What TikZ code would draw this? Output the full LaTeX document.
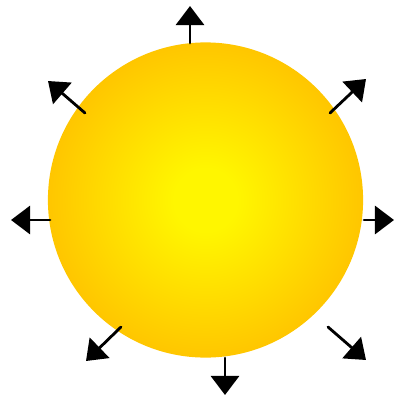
\documentclass[tikz,border=0pt]{standalone}
\usepackage{tikz}
\usetikzlibrary{arrows.meta}
\definecolor{sunmid}{RGB}{255,246,0}
\definecolor{sunrim}{RGB}{255,198,0}
\pgfdeclareradialshading{sunglow}{\pgfpoint{0bp}{0bp}}{%
  color(0bp)=(sunmid); color(5bp)=(sunmid); color(25bp)=(sunrim); color(50bp)=(sunrim)}

\begin{document}
\begin{tikzpicture}[x=0.01cm, y=-0.01cm, line cap=round,
    ray/.style={-{Triangle[width=0.28cm,length=0.19cm]}, line width=0.8pt, black}]
  \useasboundingbox (0,0) rectangle (395,397);
  \node (sun) at (205.5,200) [circle, minimum size=3.15cm, inner sep=0pt,
    shading=sunglow] {};
  \coordinate (nT)  at (190,43);   \coordinate (tT)  at (190,6);
  \coordinate (nTL) at (85,113);   \coordinate (tTL) at (48,81);
  \coordinate (nTR) at (330,113);  \coordinate (tTR) at (366,79);
  \coordinate (nL)  at (50,220);   \coordinate (tL)  at (11,220);
  \coordinate (nR)  at (364,220);  \coordinate (tR)  at (394,220);
  \coordinate (nBL) at (121,327);  \coordinate (tBL) at (86,361);
  \coordinate (nB)  at (225,358);  \coordinate (tB)  at (225,395);
  \coordinate (nBR) at (328,327);  \coordinate (tBR) at (366,360);
  \draw[ray] (nT)--(tT);   \draw[ray] (nTL)--(tTL);
  \draw[ray] (nTR)--(tTR); \draw[ray] (nL)--(tL);
  \draw[ray] (nR)--(tR);   \draw[ray] (nBL)--(tBL);
  \draw[ray] (nB)--(tB);   \draw[ray] (nBR)--(tBR);
\end{tikzpicture}
\end{document}
